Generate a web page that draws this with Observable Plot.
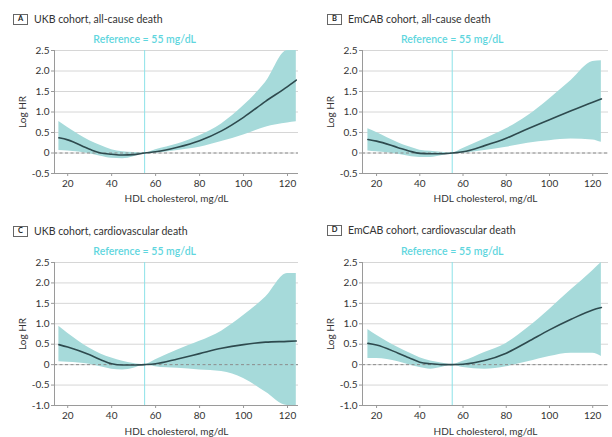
<!DOCTYPE html>
<html><head><meta charset="utf-8">
<script src="https://cdn.jsdelivr.net/npm/d3@7"></script>
<script src="https://cdn.jsdelivr.net/npm/@observablehq/plot@0.6"></script>
<style>
body{margin:0;background:#fff;font-family:Lato,"Open Sans",sans-serif;}
#wrap{position:relative;width:612px;height:437px;overflow:hidden;background:#fff;}
.panel{position:absolute;}
.title{position:absolute;display:flex;align-items:center;font-size:10.5px;color:#333;white-space:nowrap;line-height:12px;}
.box{display:inline-flex;align-items:center;justify-content:center;width:13px;height:9px;border:1px solid #666;font-size:7.5px;font-weight:700;margin-right:6px;color:#222;}
</style></head><body><div id="wrap"></div>
<script>
// ---- data ----
const hdl = [16, 20, 30, 35, 40, 45, 50, 55, 60, 70, 80, 90, 100, 110, 120, 124];
const xTicks = [20, 40, 60, 80, 100, 120];
const yTicksTop = [-0.5, 0, 0.5, 1.0, 1.5, 2.0, 2.5];
const yTicksBottom = [-1.0, -0.5, 0, 0.5, 1.0, 1.5, 2.0, 2.5];
const referenceHDL = 55;
const referenceLabel = "Reference = 55 mg/dL";
const panelLetters = ["A", "B", "C", "D"];
const panelTitles = ["UKB cohort, all-cause death", "EmCAB cohort, all-cause death", "UKB cohort, cardiovascular death", "EmCAB cohort, cardiovascular death"];

const ukbAllLogHR   = [0.37, 0.32, 0.09, 0.00, -0.03, -0.05, -0.04, 0, 0.03, 0.14, 0.30, 0.54, 0.87, 1.26, 1.62, 1.78];
const ukbAllUpper   = [0.77, 0.62, 0.30, 0.18, 0.08, 0.03, 0.01, 0, 0.08, 0.22, 0.42, 0.71, 1.15, 1.72, 2.50, 2.50];
const ukbAllLower   = [0.06, 0.05, -0.02, -0.08, -0.13, -0.14, -0.09, 0, 0.00, 0.06, 0.14, 0.28, 0.44, 0.63, 0.73, 0.76];

const emcabAllLogHR = [0.33, 0.29, 0.13, 0.05, -0.01, -0.02, -0.02, 0, 0.03, 0.18, 0.36, 0.59, 0.81, 1.03, 1.24, 1.32];
const emcabAllUpper = [0.59, 0.50, 0.25, 0.15, 0.07, 0.04, 0.02, 0, 0.11, 0.34, 0.59, 0.91, 1.32, 1.77, 2.23, 2.25];
const emcabAllLower = [0.05, 0.03, -0.03, -0.08, -0.11, -0.11, -0.07, 0, 0.00, 0.06, 0.14, 0.24, 0.30, 0.34, 0.32, 0.26];

const ukbCvdLogHR   = [0.49, 0.43, 0.24, 0.12, 0.02, -0.01, -0.01, 0, 0.02, 0.14, 0.27, 0.40, 0.49, 0.55, 0.57, 0.58];
const ukbCvdUpper   = [0.94, 0.77, 0.40, 0.26, 0.16, 0.08, 0.03, 0, 0.12, 0.36, 0.57, 0.82, 1.20, 1.65, 2.23, 2.23];
const ukbCvdLower   = [0.07, 0.06, 0.01, -0.05, -0.11, -0.13, -0.09, 0, -0.05, -0.09, -0.13, -0.17, -0.34, -0.67, -1.00, -1.00];

const emcabCvdLogHR = [0.52, 0.48, 0.28, 0.17, 0.06, 0.02, 0.00, 0, 0.01, 0.10, 0.28, 0.56, 0.85, 1.11, 1.34, 1.40];
const emcabCvdUpper = [0.86, 0.72, 0.42, 0.29, 0.17, 0.09, 0.04, 0, 0.08, 0.30, 0.52, 0.90, 1.35, 1.83, 2.30, 2.50];
const emcabCvdLower = [0.15, 0.15, 0.07, 0.00, -0.07, -0.11, -0.07, 0, -0.07, -0.11, -0.05, 0.07, 0.20, 0.28, 0.28, 0.20];

// ---- layout ----
const bandColor = "#a6dada";
const lineColor = "#2e4a4e";
const refColor = "#5fd6de";

const panels = [
  {line: ukbAllLogHR, upper: ukbAllUpper, lower: ukbAllLower, left: 0, top: 28, titleLeft: 13, titleTop: 13,
   mL: 54, mR: 8, xDom: [14, 125], yDom: [-0.5, 2.5], yTicks: yTicksTop, height: 179, mT: 22, mB: 34, lOff: 28},
  {line: emcabAllLogHR, upper: emcabAllUpper, lower: emcabAllLower, left: 306, top: 28, titleLeft: 327, titleTop: 13,
   mL: 56, mR: 4, xDom: [13.5, 127.3], yDom: [-0.5, 2.5], yTicks: yTicksTop, height: 179, mT: 22, mB: 34, lOff: 28},
  {line: ukbCvdLogHR, upper: ukbCvdUpper, lower: ukbCvdLower, left: 0, top: 240, titleLeft: 13, titleTop: 225,
   mL: 54, mR: 8, xDom: [14, 125], yDom: [-1.0, 2.5], yTicks: yTicksBottom, height: 197, mT: 22, mB: 32, lOff: 29},
  {line: emcabCvdLogHR, upper: emcabCvdUpper, lower: emcabCvdLower, left: 306, top: 240, titleLeft: 327, titleTop: 224,
   mL: 56, mR: 4, xDom: [13.5, 127.3], yDom: [-1.0, 2.5], yTicks: yTicksBottom, height: 197, mT: 22, mB: 32, lOff: 29}
];

const wrap = document.getElementById("wrap");
const fmtY = d => d === 0 ? "0" : d.toFixed(1);

panels.forEach((p, i) => {
  const t = document.createElement("div");
  t.className = "title";
  t.style.left = p.titleLeft + "px";
  t.style.top = p.titleTop + "px";
  t.innerHTML = `<span class="box">${panelLetters[i]}</span><span>${panelTitles[i]}</span>`;
  wrap.appendChild(t);

  const rows = hdl.map((x, k) => ({x, y: p.line[k], lo: p.lower[k], hi: p.upper[k]}));
  const chart = Plot.plot({
    width: 306, height: p.height,
    marginLeft: p.mL, marginRight: p.mR, marginTop: p.mT, marginBottom: p.mB,
    style: {fontFamily: "Lato, 'Open Sans', sans-serif", fontSize: "10px", color: "#333", background: "transparent", overflow: "visible"},
    x: {domain: p.xDom},
    y: {domain: p.yDom},
    marks: [
      Plot.gridY(p.yTicks, {stroke: "#d6d6d6", strokeOpacity: 1}),
      Plot.areaY(rows, {x: "x", y1: "lo", y2: "hi", fill: bandColor, curve: "monotone-x"}),
      Plot.ruleY([0], {stroke: "#8c8c8c", strokeDasharray: "3,2.5"}),
      Plot.ruleX([referenceHDL], {stroke: "#8ce2e8", strokeWidth: 1}),
      Plot.lineY(rows, {x: "x", y: "y", stroke: lineColor, strokeWidth: 1.6, curve: "monotone-x"}),
      Plot.ruleY([p.yDom[0]], {stroke: "#9a9a9a"}),
      Plot.ruleX([p.xDom[0]], {stroke: "#9a9a9a"}),
      Plot.axisX({ticks: xTicks, tickSize: 3, tickPadding: 3, stroke: "#9a9a9a", fill: "#333",
        label: "HDL cholesterol, mg/dL", labelAnchor: "center", labelOffset: p.lOff, labelArrow: "none"}),
      Plot.axisY({ticks: p.yTicks, tickFormat: fmtY, tickSize: 3, tickPadding: 2, stroke: "#9a9a9a", fill: "#333",
        label: "Log HR", labelAnchor: "center", labelOffset: 36, labelArrow: "none"}),
      Plot.text([referenceHDL], {x: d => d, y: () => p.yDom[1], dy: -11, text: () => referenceLabel,
        fill: refColor, fontSize: 10.5, fontWeight: 600})
    ]
  });
  chart.classList.add("panel");
  chart.style.left = p.left + "px";
  chart.style.top = p.top + "px";
  chart.style.position = "absolute";
  wrap.appendChild(chart);
});
</script>
</body></html>
